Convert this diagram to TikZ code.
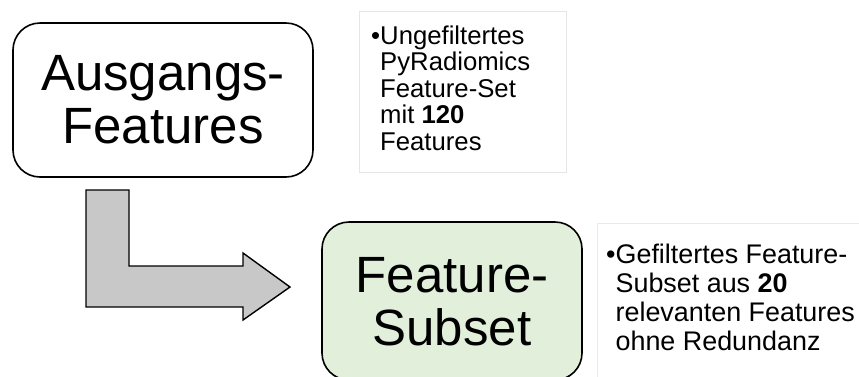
\documentclass[tikz,border=0pt]{standalone}
\usepackage{fontspec}
\setmainfont{Liberation Sans}
\definecolor{boxgreen}{RGB}{226,239,218}
\definecolor{arrowgray}{RGB}{200,200,200}
\definecolor{notegray}{RGB}{230,230,230}
\definecolor{notegreen}{RGB}{226,239,218}
\tikzset{
  stage/.style={draw=black, line width=1.6pt, rounded corners=27pt, inner sep=0pt},
  stagetext/.style={font=\fontsize{51}{53}\selectfont, align=center, inner sep=0pt},
  notebox/.style={line width=1pt, inner sep=0pt},
  bullettext/.style={align=left, inner sep=0pt},
  blockarrow/.style={draw=black, line width=1.4pt, fill=arrowgray, line join=miter},
}
\begin{document}
\begin{tikzpicture}[x=1pt, y=-1pt]
\useasboundingbox (0,0) rectangle (859,376);
\fill[white] (0,0) rectangle (859,376);

% source stage (base anchor sits on the last line)
\node[stage, fill=white, minimum width=300pt, minimum height=154pt] (boxA) at (163,100) {};
\node[stagetext, anchor=base] (txtA) at (163,143) {Ausgangs-\\Features};

% note for the source stage
\node[notebox, draw=notegray, minimum width=207pt, minimum height=161pt] (noteA) at (462.5,91.5) {};
\node[bullettext, anchor=base west, font=\fontsize{25.7}{26.5}\selectfont] (noteAtxt) at (371,150)
  {•Ungefiltertes\\\hphantom{•}PyRadiomics\\\hphantom{•}Feature-Set\\\hphantom{•}mit \textbf{120}\\\hphantom{•}Features};

% target stage
\node[stage, fill=boxgreen, minimum width=260pt, minimum height=158pt] (boxB) at (452,301) {};
\node[stagetext, anchor=base] (txtB) at (452,345) {Feature-\\Subset};

% note for the target stage
\node[notebox, draw=notegreen, minimum width=300pt, minimum height=200pt] (noteB) at (747,323) {};
\node[bullettext, anchor=base west, font=\fontsize{26.9}{28.7}\selectfont] (noteBtxt) at (606,350)
  {•Gefiltertes Feature-\\\hphantom{•}Subset aus \textbf{20}\\\hphantom{•}relevanten Features\\\hphantom{•}ohne Redundanz};

% L-shaped block arrow from the source stage to the target stage
\coordinate (arrTop) at (86,190);
\coordinate (arrTip) at (290,287);
\draw[blockarrow] (arrTop) -- ++(43,0) -- ++(0,76) -- ++(114,0) -- ++(0,-13)
  -- (arrTip) -- ++(-47,33) -- ++(0,-13) -- ++(-157,0) -- cycle;
\end{tikzpicture}
\end{document}
